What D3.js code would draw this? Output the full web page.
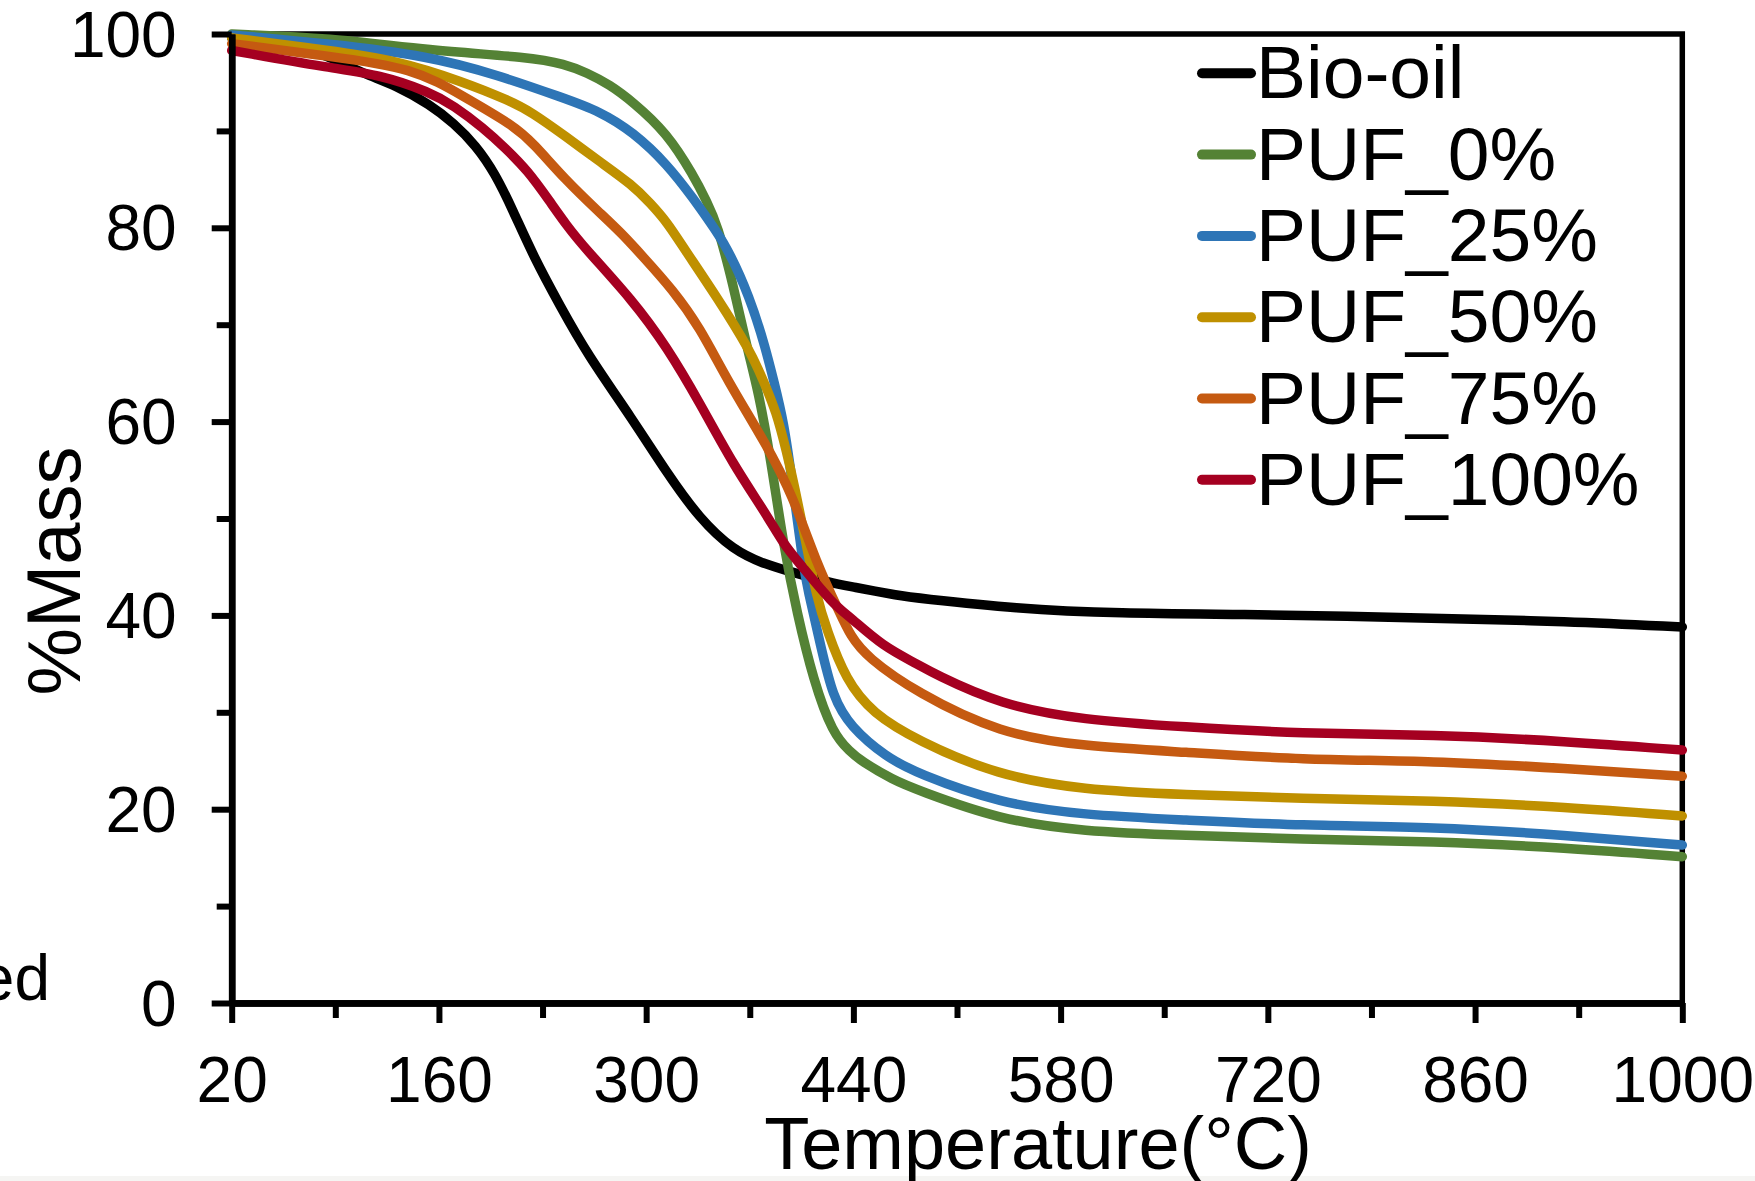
<!DOCTYPE html>
<html>
<head>
<meta charset="utf-8">
<script src="https://cdn.jsdelivr.net/npm/d3@7"></script>
<style>
  html, body { margin: 0; padding: 0; background: #ffffff; }
  svg { display: block; }
  text { font-family: "Liberation Sans", Arial, sans-serif; fill: #000; }
</style>
</head>
<body>
<svg id="chart" width="1755" height="1181"></svg>
<script>
// ---------- data ----------
const seriesNames = ["Bio-oil", "PUF_0%", "PUF_25%", "PUF_50%", "PUF_75%", "PUF_100%"];
const seriesColors = ["#000000", "#548235", "#2E75B6", "#BF9000", "#C55A11", "#A50021"];

const xTicksMajor = [20, 160, 300, 440, 580, 720, 860, 1000];
const xTicksMinor = [90, 230, 370, 510, 650, 790, 930];
const yTicksMajor = [0, 20, 40, 60, 80, 100];
const yTicksMinor = [10, 30, 50, 70, 90];

// [temperature °C, % mass]
const bioOil = [[20,99.6],[50,99.0],[75,98.2],[90,97.4],[109,95.9],[131,94.7],[154,92.7],[170,90.8],[185,88.5],[198,85.6],[210,81.8],[224,77.0],[242,71.9],[260,67.0],[291,60.2],[314,54.7],[336,50.0],[359,46.7],[380,45.3],[393,44.7],[426,43.3],[438,43.0],[472,42.0],[483,41.8],[550,40.7],[618,40.2],[708,40.1],[775,39.9],[832,39.7],[922,39.4],[1000,38.8]];
const puf0 = [[20,100],[86,99.6],[154,98.3],[222,97.6],[245,96.9],[260,96.0],[275,94.8],[291,93.0],[314,89.8],[332,85.4],[341,82.7],[348,80.4],[359,74.0],[368,67.7],[376,63.0],[384,56.3],[393,47.0],[402,40.2],[413,33.3],[426,27.8],[438,25.9],[445,25.0],[467,23.0],[483,22.0],[539,18.9],[595,17.7],[663,17.3],[742,16.9],[832,16.7],[922,16.0],[1000,15.1]];
const puf25 = [[20,99.9],[86,99.0],[154,97.7],[199,95.8],[244,93.4],[269,92.0],[291,89.9],[314,86.6],[332,83.0],[343,80.6],[354,78.2],[370,72.9],[381,67.4],[386,64.3],[393,60.0],[399,53.5],[406,45.3],[409,42.8],[418,36.8],[426,31.6],[438,28.5],[462,25.4],[483,23.7],[539,20.6],[595,19.4],[663,18.9],[742,18.3],[832,18.2],[922,17.3],[1000,16.3]];
const puf50 = [[20,99.6],[86,98.3],[131,97.3],[176,95.1],[208,93.1],[222,92.0],[246,89.4],[267,87.0],[291,84.4],[303,82.5],[314,80.6],[325,78.0],[348,72.8],[370,67.4],[379,64.3],[388,61.0],[395,56.8],[400,53.5],[408,47.5],[415,42.0],[422,38.5],[435,33.3],[453,29.9],[483,27.1],[537,23.5],[595,22.0],[663,21.5],[742,21.1],[832,20.9],[922,20.2],[1000,19.3]];
const puf75 = [[20,99.0],[86,97.7],[143,96.5],[176,93.6],[210,90.6],[224,88.7],[245,85.0],[269,81.5],[283,79.5],[298,77.0],[318,73.6],[336,69.8],[355,64.2],[381,57.7],[399,52.4],[415,45.4],[431,40.2],[438,37.9],[449,35.7],[483,32.0],[539,27.8],[595,26.5],[663,25.9],[742,25.1],[832,25.0],[922,24.2],[1000,23.4]];
const puf100 = [[20,98.3],[86,96.5],[120,95.8],[154,94.0],[170,92.6],[190,90.3],[205,88.2],[220,85.9],[235,82.7],[246,80.3],[258,78.0],[291,72.5],[314,67.7],[336,62.0],[359,55.5],[381,50.5],[393,47.3],[404,45.3],[426,41.2],[438,39.8],[460,36.8],[483,35.0],[494,34.0],[539,30.8],[595,29.2],[663,28.5],[742,27.8],[832,27.7],[922,27.0],[1000,26.1]];

const seriesData = [bioOil, puf0, puf25, puf50, puf75, puf100];

// ---------- layout ----------
const svg = d3.select("#chart");
const W = 1755, H = 1181;
const plot = { left: 231.7, right: 1682.3, top: 34, bottom: 1003 };

svg.append("rect").attr("x", 0).attr("y", 0).attr("width", W).attr("height", H).attr("fill", "#ffffff");
svg.append("rect").attr("x", 0).attr("y", 1176).attr("width", W).attr("height", 5).attr("fill", "#f5f5f3");

const x = d3.scaleLinear().domain([20, 1000]).range([plot.left, plot.right]);
const y = d3.scaleLinear().domain([0, 100]).range([plot.bottom, plot.top]);

// plot frame (top & right)
svg.append("rect")
  .attr("x", plot.left).attr("y", plot.top)
  .attr("width", plot.right - plot.left).attr("height", plot.bottom - plot.top)
  .attr("fill", "none").attr("stroke", "#000").attr("stroke-width", 5.5);

// ---------- series ----------
const line = d3.line()
  .x(d => x(d[0]))
  .y(d => y(d[1]))
  .curve(d3.curveBasis);

const gLines = svg.append("g");
seriesData.forEach((data, i) => {
  gLines.append("path")
    .datum(data)
    .attr("d", line)
    .attr("fill", "none")
    .attr("stroke", seriesColors[i])
    .attr("stroke-width", 9.5)
    .attr("stroke-linecap", "round")
    .attr("stroke-linejoin", "round");
});

// ---------- axes ----------
function styleAxis(g, domainWidth) {
  g.select(".domain").attr("stroke", "#000").attr("stroke-width", domainWidth);
  g.selectAll(".tick line").attr("stroke", "#000").attr("stroke-width", 6);
}

// x minor
const gxMinor = svg.append("g").attr("transform", `translate(0,${plot.bottom})`)
  .call(d3.axisBottom(x).tickValues(xTicksMinor).tickSize(15).tickSizeOuter(0).tickFormat(""));
styleAxis(gxMinor, 6.5);

// x major
const gx = svg.append("g").attr("transform", `translate(0,${plot.bottom})`)
  .call(d3.axisBottom(x).tickValues(xTicksMajor).tickSize(20).tickSizeOuter(0).tickFormat(d3.format("d")));
styleAxis(gx, 6.5);
gx.selectAll(".tick text")
  .attr("y", 98.5).attr("dy", null)
  .style("font-size", "64px")
  .style("font-family", "'Liberation Sans', Arial, sans-serif")
  .attr("fill", "#000");

// y minor
const gyMinor = svg.append("g").attr("transform", `translate(${plot.left},0)`)
  .call(d3.axisLeft(y).tickValues(yTicksMinor).tickSize(15).tickSizeOuter(0).tickFormat(""));
styleAxis(gyMinor, 6.5);

// y major
const gy = svg.append("g").attr("transform", `translate(${plot.left},0)`)
  .call(d3.axisLeft(y).tickValues(yTicksMajor).tickSize(20).tickSizeOuter(0).tickFormat(d3.format("d")));
styleAxis(gy, 6.5);
gy.selectAll(".tick text")
  .attr("x", -55).attr("dy", null).attr("y", 22)
  .style("font-size", "64px")
  .style("font-family", "'Liberation Sans', Arial, sans-serif")
  .attr("fill", "#000");

// ---------- titles ----------
svg.append("text")
  .attr("x", 1038).attr("y", 1169)
  .attr("text-anchor", "middle")
  .style("font-size", "74px")
  .text("Temperature(°C)");

svg.append("text")
  .attr("transform", "translate(80,571) rotate(-90)")
  .attr("text-anchor", "middle")
  .style("font-size", "76px")
  .text("%Mass");

// stray fragment at the left edge
svg.append("text")
  .attr("x", 50).attr("y", 1000)
  .attr("text-anchor", "end")
  .style("font-size", "64px")
  .text("ed");

// ---------- legend ----------
const legendRows = [73.3, 154.6, 235.9, 317.2, 398.5, 479.8];
const gLeg = svg.append("g");
seriesNames.forEach((name, i) => {
  const ry = legendRows[i];
  gLeg.append("line")
    .attr("x1", 1202).attr("x2", 1251)
    .attr("y1", ry).attr("y2", ry)
    .attr("stroke", seriesColors[i])
    .attr("stroke-width", 10)
    .attr("stroke-linecap", "round");
  gLeg.append("text")
    .attr("x", 1256).attr("y", ry + 25)
    .style("font-size", "75px")
    .text(name);
});
</script>
</body>
</html>
